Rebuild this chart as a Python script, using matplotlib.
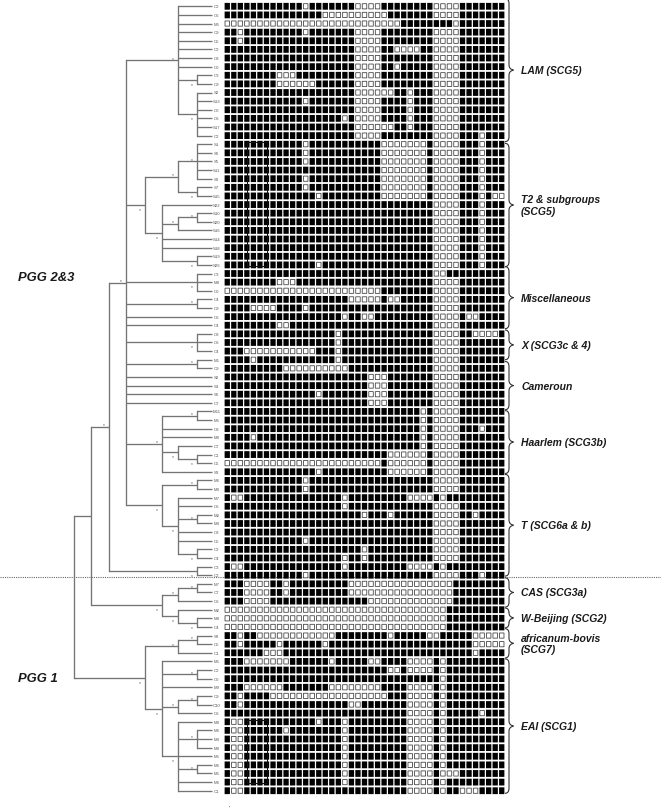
import matplotlib
matplotlib.use("Agg")
import matplotlib.pyplot as plt
from matplotlib.path import Path
from matplotlib.patches import PathPatch, Rectangle

plt.rcParams['font.family'] = ['Liberation Sans', 'DejaVu Sans']

tip_labels = ["C2","C6","M5","C9","C5","C2","C8","C0","C3","C9","S2","S13","C0","C6","S17","C2",
 "S1","S6","S5","S11","S3","S7","S15","S22","S10","S20","S16","S14","S18","S19","S26",
 "C3","M8","C0","C4","C9","C6","C4","C8","C6","C4","M1","C9","S2","S4","S6","C7",
 "M11","M5","C8","M0","C7","C1","C5","S3","M6","M0","M7","C6","M2","M3","C8","C5","C2","C4","C3","C2",
 "M7","C7","C6","M2","M8","C4","S9","C5","C1","M5","C2","C0","M9","C9","C10","C6",
 "M0","M6","M3","M0","M5","M6","M5","M6","C1"]

N_COLS = 43
white_runs = [
 [12,12,20,23,32,35],[15,24,32,35],[0,26,35,35],[2,2,12,12,20,23,32,35],[2,2,20,23,32,35],
 [20,23,26,29,32,35],[20,23,32,35],[20,23,26,26,32,35],[8,10,20,23,32,35],[8,13,20,23,32,35],
 [20,25,28,28,32,35],[12,12,20,23,28,28,32,35],[20,23,28,28,32,35],[18,18,20,23,28,28,32,35],
 [20,25,28,28,32,35],[20,23,32,35,39,39],
 [12,12,24,30,32,35,39,39],[12,12,24,30,32,35,39,39],[12,12,24,30,32,35,39,39],[24,30,32,35,39,39],
 [12,12,24,30,32,35,39,39],[12,12,24,30,32,35,39,39],[14,14,24,30,32,35,39,39,41,42],
 [32,35,39,39],[32,35,39,39],[32,35,39,39],[32,35,39,39],[32,35,39,39],[32,35,39,39],[32,35,39,39],
 [14,14,32,35,39,39],
 [32,33],[8,10,32,35],[0,23,32,35],[19,23,25,26,32,35],[4,7,12,12,32,35],[18,18,21,22,32,35,37,38],
 [8,9,32,35],
 [17,17,32,35,38,41],[17,17,32,35],[3,13,17,17,32,35],[4,4,17,17,32,35],
 [9,18,32,35],[22,24,32,35],[22,24,32,35],[14,14,22,24,32,35],[22,24,32,35],
 [30,30,32,35],[30,30,32,35],[30,30,32,35,39,39],[4,4,30,30,32,35],[30,30,32,35],[25,30,32,35],
 [0,23,25,30,32,35],[14,14,25,30,32,35],
 [12,12,32,35],[12,12,32,35],[1,2,18,18,28,31,33,33],[18,18,32,35],[21,21,25,25,32,35,38,38],
 [32,35],[32,35],[12,12,32,35],[21,21,32,35],[18,18,21,21,32,35],[1,2,18,18,28,31,33,33],
 [12,12,32,35,39,39],
 [3,6,9,9,19,34],[3,6,9,9,19,34],[3,6,22,34],[0,33],[0,33],[0,33],
 [2,2,5,16,25,25,31,32,38,42],[2,2,8,8,15,15,38,42],[6,8,38,38],
 [3,9,16,16,22,23,28,31,33,33],[25,26,28,31,33,33],[33,33],[3,8,16,23,28,31,33,33],
 [2,2,7,24,28,31,33,33],[2,2,19,20,28,31,33,33],[28,31,33,33,39,39],
 [1,2,14,14,18,18,28,31,33,33],[1,2,9,9,18,18,28,31,33,33],[1,2,18,18,28,31,33,33],
 [1,2,18,18,28,31,33,33],[1,2,18,18,28,31,33,33],[1,2,18,18,28,31,33,33],
 [1,2,18,18,28,31,33,35],[1,2,18,18,28,31,33,33],[1,2,28,31,33,33,36,38],
]

# nodes: (level, mark side, children); ints are rows
clade_lam = (6, 1, [0,1,2,3,4,5,6,7,(7,-1,[8,9]),(7,-1,[10,11,12,13,14,15])])
clade_t2 = (4, -1, [
    (6, 1, [(7,1,[16,17,18,19,20]),(7,-1,[21,22])]),
    (5, -1, [23,(6,1,[(7,1,[24,25]),26]),27,28,(7,-1,[29,30])])])
clade_haarlem = (5, 1, [(7,1,[47,48]),49,50,(6,-1,[51,(7,-1,[52,53])]),54])
clade_t = (5, -1, [(7,1,[55,56]),(6,-1,[57,58,(7,1,[59,60]),61,62,(7,-1,[63,64])])])
clade_core = (3, 1, [clade_lam, clade_t2, (7,-1,[31,32,33]), (7,1,[34,35]), 36, 37,
                     (7,-1,[38,39,40]), (7,1,[41,42]), 43, 44, 45, 46, clade_haarlem, clade_t])
clade_cas = (5, -1, [(6,1,[(7,1,[67,68]),69]),(6,-1,[70,(7,-1,[71,72])])])
clade_pgg1 = (4, -1, [(6,1,[(7,1,[73,74]),75]),
    (5, -1, [76,(7,1,[77,78]),79,(6,1,[(7,1,[80,81]),82]),
             (6,-1,[83,(7,1,[84,85,86]),87,(7,1,[88,89]),90,91])])])
tree = (0, 0, [(1, 0, [(2, 1, [clade_core, (7,-1,[65,66])]), clade_cas]), clade_pgg1])

level_x = [73.5, 90.7, 109, 126, 144.5, 161.5, 178, 196.5]
TIP_X = 212

groups = ["LAM (SCG5)", "T2 & subgroups\n(SCG5)", "Miscellaneous", "X (SCG3c & 4)", "Cameroun",
          "Haarlem (SCG3b)", "T (SCG6a & b)", "CAS (SCG3a)", "W-Beijing (SCG2)",
          "africanum-bovis\n(SCG7)", "EAI (SCG1)"]
group_first = [-0.9, 15.9, 30.2, 37.55, 41.2, 46.9, 54.3, 66.3, 69.8, 72.2, 75.7]
group_last = [15.7, 30.2, 37.4, 41.0, 46.8, 54.2, 66.1, 69.7, 72.1, 75.6, 91.3]

ROW0, ROWH = 7.3, 8.62
COL0, COLW = 224.0, 6.535
ry = lambda r: ROW0 + ROWH * r
cx = lambda c: COL0 + COLW * c

fig = plt.figure(figsize=(6.61, 8.12), dpi=100)
ax = fig.add_axes([0, 0, 1, 1])
ax.set_xlim(0, 661); ax.set_ylim(812, 0); ax.axis('off')

# separator
ax.plot([0, 661], [577.6, 577.6], color='#6a6a6a', lw=0.8, ls=(0, (1, 1)), zorder=1)

# tree
TREE_C, TREE_LW = '#747474', 0.95
def draw(node):
    if isinstance(node, int):
        return None, ry(node)
    lev, mark, kids = node
    x = level_x[lev]
    ys = []
    for k in kids:
        kx, ky = draw(k)
        ax.plot([x, kx if kx is not None else TIP_X], [ky, ky], color=TREE_C, lw=TREE_LW,
                solid_capstyle='butt', zorder=2)
        ys.append(ky)
    ax.plot([x, x], [ys[0], ys[-1]], color=TREE_C, lw=TREE_LW, solid_capstyle='projecting', zorder=2)
    ym = (ys[0] + ys[-1]) / 2
    if mark:
        ax.text(x - 5, ym + (-2.0 if mark > 0 else 4.5), '*', fontsize=3.5, color='#555555',
                ha='center', va='center', zorder=3)
    return x, ym
draw(tree)

# tip labels
for r, s in enumerate(tip_labels):
    ax.text(216.8, ry(r), s, fontsize=3.1, color='#555555', ha='center', va='center')

# spoligotype grid
BW, BH = 5.3, 6.8
WW, WH = 4.5, 5.2
for r, runs in enumerate(white_runs):
    white = set()
    for a, b in zip(runs[0::2], runs[1::2]):
        white.update(range(a, b + 1))
    y = ry(r)
    for c in range(N_COLS):
        xc = cx(c) + COLW / 2
        if c in white:
            ax.add_patch(Rectangle((xc - WW/2, y - WH/2), WW, WH, fc='white', ec='#484848', lw=0.6,
                                   zorder=4, snap=False))
        else:
            ax.add_patch(Rectangle((xc - BW/2, y - BH/2), BW, BH, fc='black', ec='none', lw=0,
                                   zorder=4, snap=False))

# outlined blocks over the grid
for r0, r1 in [(16, 30), (83, 90)]:
    ax.add_patch(Rectangle((cx(3.47), ry(r0) - 2), cx(6.6) - cx(3.47), ry(r1) - ry(r0) + 3,
                           fc='none', ec='#111111', lw=0.7, zorder=5))

# braces
def brace(y0, y1):
    xs, xm, xt = 505.0, 509.0, 513.5
    ym = (y0 + y1) / 2
    v = [(xs, y0), (xm, y0), (xm, y0 + 5), (xm, ym - 5), (xm, ym - 1), (xt, ym),
         (xm, ym + 1), (xm, ym + 5), (xm, y1 - 5), (xm, y1), (xs, y1)]
    c = [Path.MOVETO, Path.CURVE3, Path.CURVE3, Path.LINETO, Path.CURVE3, Path.CURVE3,
         Path.CURVE3, Path.CURVE3, Path.LINETO, Path.CURVE3, Path.CURVE3]
    ax.add_patch(PathPatch(Path(v, c), fc='none', ec='#333333', lw=0.8, zorder=5))

for name, a, b in zip(groups, group_first, group_last):
    brace(ry(a), ry(b))
    ax.text(521, (ry(a) + ry(b)) / 2, name, fontsize=7.5, style='italic', weight='bold',
            color='#1a1a1a', ha='left', va='center', linespacing=1.15)

ax.text(18, 277.7, "PGG 2&3", fontsize=9.4, style='italic', weight='bold', color='#1a1a1a', ha='left', va='center')
ax.text(18, 679, "PGG 1", fontsize=9.4, style='italic', weight='bold', color='#1a1a1a', ha='left', va='center')
ax.text(229.5, 808.5, "'", fontsize=4, color='#333333', ha='center', va='center')

fig.savefig("out.png", dpi=100)
